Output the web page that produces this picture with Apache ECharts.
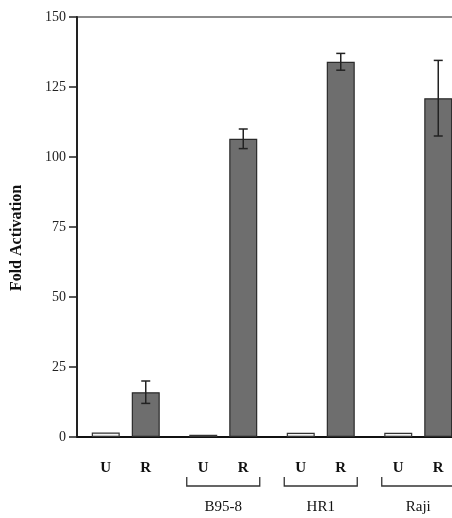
<!DOCTYPE html>
<html>
<head>
<meta charset="utf-8">
<script src="https://cdn.jsdelivr.net/npm/echarts@6/dist/echarts.min.js"></script>
<style>html,body{margin:0;padding:0;background:#fff;}#c{width:452px;height:518px;}</style>
</head>
<body>
<div id="c"></div>
<script>
var groups = ['', 'B95-8', 'HR1', 'Raji'];
var uValues = [1.6, 0.8, 1.5, 1.5];
var rValues = [16, 106.5, 134, 121];
var rErrors = [4, 3.5, 3, 13.5];
var bracketGroups = [1, 2, 3];
var yTicks = [0, 25, 50, 75, 100, 125, 150];

var BAR_W = 28, BAR_GAP = 12;
var serif = 'Liberation Serif, Times New Roman, serif';

var chart = echarts.init(document.getElementById('c'), null, {renderer: 'canvas'});
chart.setOption({
  animation: false,
  backgroundColor: '#fff',
  grid: {left: 77, top: 17, width: 390, height: 420, show: true, borderColor: '#666', borderWidth: 1.5,
    backgroundColor: 'transparent', outerBoundsMode: 'none', containLabel: false},
  xAxis: {
    type: 'category', data: groups,
    axisLine: {lineStyle: {color: '#111', width: 2}},
    axisTick: {show: false},
    axisLabel: {margin: 63, fontFamily: serif, fontSize: 15, color: '#111'}
  },
  yAxis: {
    type: 'value', min: 0, max: 150, interval: 25,
    name: 'Fold Activation', nameLocation: 'middle', nameGap: 52,
    nameTextStyle: {fontFamily: serif, fontSize: 16, fontWeight: 'bold', color: '#111', padding: [0, 22, 0, 0]},
    axisLine: {show: true, lineStyle: {color: '#222', width: 2}},
    axisTick: {show: true, length: 8, lineStyle: {color: '#222', width: 1.5}},
    axisLabel: {margin: 11, fontFamily: serif, fontSize: 14, color: '#222',
      formatter: function (v) { return yTicks.indexOf(v) >= 0 ? String(v) : ''; }},
    splitLine: {show: false}
  },
  series: [
    {
      name: 'U', type: 'bar', data: uValues, barWidth: BAR_W, barGap: (BAR_GAP / BAR_W * 100) + '%',
      itemStyle: {color: '#f3f3f3', borderColor: '#333', borderWidth: 1.2},
      label: {show: true, position: 'bottom', distance: 5, offset: [0, 19], formatter: 'U',
        fontFamily: serif, fontSize: 15, fontWeight: 'bold', color: '#111'}
    },
    {
      name: 'R', type: 'bar', data: rValues, barWidth: BAR_W,
      itemStyle: {color: '#6e6e6e', borderColor: '#2a2a2a', borderWidth: 1.2},
      label: {show: true, position: 'bottom', distance: 5, offset: [0, 19], formatter: 'R',
        fontFamily: serif, fontSize: 15, fontWeight: 'bold', color: '#111'}
    },
    {
      type: 'custom', z: 10, clip: false,
      data: rValues.map(function (v, i) { return [i, v, rErrors[i]]; }),
      renderItem: function (params, api) {
        var i = api.value(0), v = api.value(1), e = api.value(2);
        var x = api.coord([i, v])[0] + (BAR_W + BAR_GAP) / 2;
        var yt = api.coord([i, v + e])[1];
        var yb = api.coord([i, v - e])[1];
        var s = {stroke: '#222', lineWidth: 1.5};
        return {type: 'group', children: [
          {type: 'line', shape: {x1: x, y1: yt, x2: x, y2: yb}, style: s},
          {type: 'line', shape: {x1: x - 4.5, y1: yt, x2: x + 4.5, y2: yt}, style: s},
          {type: 'line', shape: {x1: x - 4.5, y1: yb, x2: x + 4.5, y2: yb}, style: s}
        ]};
      }
    },
    {
      type: 'custom', z: 10, clip: false,
      data: bracketGroups.map(function (g) { return [g, 0]; }),
      renderItem: function (params, api) {
        var c = api.coord([api.value(0), 0]);
        var half = 36.5, y1 = c[1] + 40, y2 = c[1] + 49;
        return {type: 'polyline', shape: {points: [[c[0] - half, y1], [c[0] - half, y2], [c[0] + half, y2], [c[0] + half, y1]]},
          style: {stroke: '#333', lineWidth: 1.3, fill: null}};
      }
    }
  ]
});
</script>
</body>
</html>
